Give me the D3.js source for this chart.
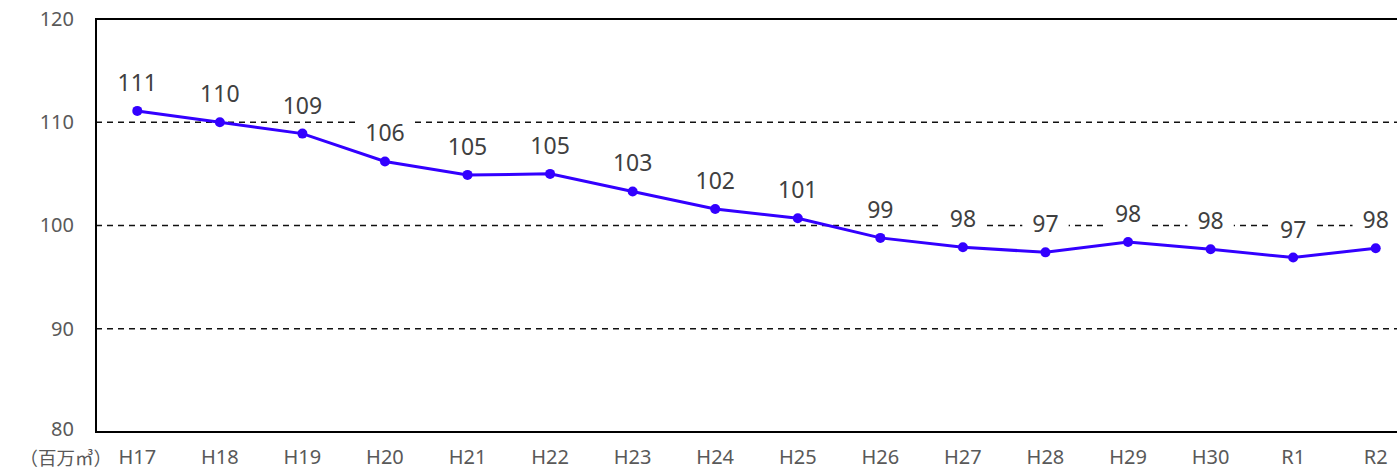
<!DOCTYPE html>
<html><head><meta charset="utf-8">
<script src="https://cdn.jsdelivr.net/npm/d3@7"></script>
<style>body{margin:0;background:#fff;} svg{display:block;}</style>
</head><body>
<script>
const categories = ["H17","H18","H19","H20","H21","H22","H23","H24","H25","H26","H27","H28","H29","H30","R1","R2"];
const values = [111.1,110.0,108.9,106.2,104.9,105.0,103.3,101.6,100.7,98.8,97.9,97.4,98.4,97.7,96.9,97.8];
const labels = ["111","110","109","106","105","105","103","102","101","99","98","97","98","98","97","98"];
const yTicks = [80,90,100,110,120];
const unitLabel = "（百万㎥）";

(function(){
const W = 1397, H = 469;
const font = "'Noto Sans CJK JP','Noto Sans',sans-serif";
const latin = "'Noto Sans',sans-serif";
const svg = d3.select("body").append("svg").attr("width",W).attr("height",H);
const pL = 96, pR = 1417, pT = 19, pB = 432;
const x = d3.scalePoint().domain(categories).range([pL,pR]).padding(0.5);
const y = d3.scaleLinear().domain([80,120]).range([pB,pT]);

// grid
svg.append("g").selectAll("line").data([90,100,110]).join("line")
  .attr("x1",pL).attr("x2",pR).attr("y1",d=>y(d)).attr("y2",d=>y(d))
  .attr("stroke","#111").attr("stroke-width",1.4).attr("stroke-dasharray","6,5");

// frame
svg.append("path").attr("d",`M${pR},${pT}H${pL}V${pB}H${pR}`)
  .attr("fill","none").attr("stroke","#000").attr("stroke-width",2);

// y tick labels
svg.append("g").selectAll("text").data(yTicks).join("text")
  .attr("x",74).attr("y",d=>y(d)).attr("dy",d=>d===80?"0.2em":"0.34em").attr("text-anchor","end")
  .attr("font-family",latin).attr("font-size",20).attr("fill","#595959").text(d=>d);

// x labels
svg.append("g").selectAll("text").data(categories).join("text")
  .attr("x",d=>x(d)).attr("y",464).attr("text-anchor","middle")
  .attr("font-family",latin).attr("font-size",20).attr("fill","#595959").text(d=>d);
svg.append("text").attr("x",112).attr("y",465).attr("text-anchor","end")
  .attr("font-family",font).attr("font-size",18.5).attr("fill","#595959").text(unitLabel);

// line
const pts = categories.map((c,i)=>({c,v:values[i],l:labels[i]}));
svg.append("path").datum(pts).attr("fill","none").attr("stroke","#3300ff").attr("stroke-width",3)
  .attr("d",d3.line().x(d=>x(d.c)).y(d=>y(d.v)));
svg.append("g").selectAll("circle").data(pts).join("circle")
  .attr("cx",d=>x(d.c)).attr("cy",d=>y(d.v)).attr("r",5).attr("fill","#3300ff");

// data labels with white background
const lg = svg.append("g").selectAll("g").data(pts).join("g");
lg.append("rect").attr("x",d=>x(d.c)-d.l.length*6.6-10).attr("width",d=>d.l.length*13.2+20)
  .attr("y",d=>y(d.v)-44).attr("height",30).attr("fill","#fff");
lg.append("text").attr("x",d=>x(d.c)).attr("y",d=>y(d.v)-20).attr("text-anchor","middle")
  .attr("font-family",latin).attr("font-size",23).attr("fill","#404040").text(d=>d.l);
})();
</script>
</body></html>
